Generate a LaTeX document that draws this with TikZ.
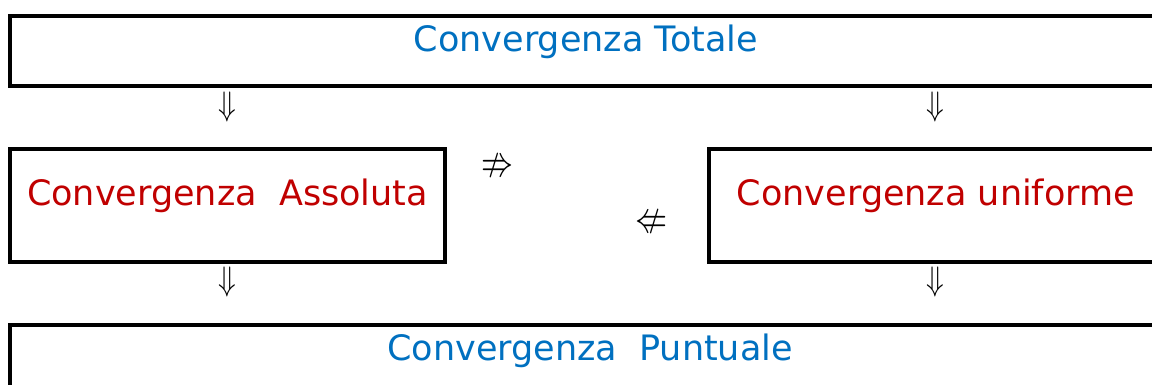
\documentclass[tikz,border=0pt]{standalone}
\usepackage{amssymb}
\usepackage{graphicx}
\usepackage{fontspec}
\setmainfont{DejaVu Sans}
\definecolor{convblue}{HTML}{0070C0}
\definecolor{convred}{HTML}{C00000}
\tikzset{
  frame/.style={draw=black, line width=3.4pt, rectangle, inner sep=0pt},
  blutext/.style={anchor=base, inner sep=0pt, text=convblue, font=\fontsize{35}{40}\selectfont},
  redtext/.style={anchor=base, inner sep=0pt, text=convred, font=\fontsize{35}{40}\selectfont},
  implies/.style={inner sep=0pt}
}
\newcommand{\bigdown}{\scalebox{2.9}[3.4]{$\Downarrow$}}
\newcommand{\bignot}[1]{\scalebox{3.2}[4.4]{$#1$}}
\begin{document}
\begin{tikzpicture}[x=1pt,y=-1pt]
  \useasboundingbox (0,0) rectangle (1152,385);
  \clip (0,0) rectangle (1152,385);

  % boxes
  \node[frame, minimum width=1152pt, minimum height=70pt] (tot) at (586,51) {};
  \node[frame, minimum width=435pt, minimum height=113pt] (ass) at (227.5,205.5) {};
  \node[frame, minimum width=451pt, minimum height=113pt] (uni) at (934.5,205.5) {};
  \node[frame, minimum width=1152pt, minimum height=75pt] (pun) at (586,362.5) {};

  % labels
  \node[blutext] (totL) at (586,52) {Convergenza Totale};
  \node[redtext] (assL) at (227.5,206) {Convergenza~~Assoluta};
  \node[redtext] (uniL) at (936,206) {Convergenza uniforme};
  \node[blutext] (punL) at (590,360) {Convergenza~~Puntuale};

  % implications
  \node[implies] (i1) at (227,107) {\bigdown};
  \node[implies] (i2) at (935,107) {\bigdown};
  \node[implies] (i3) at (227,282) {\bigdown};
  \node[implies] (i4) at (935,282) {\bigdown};
  \node[implies] (n1) at (497,168) {\bignot{\nRightarrow}};
  \node[implies] (n2) at (651,224) {\bignot{\nLeftarrow}};
\end{tikzpicture}
\end{document}
